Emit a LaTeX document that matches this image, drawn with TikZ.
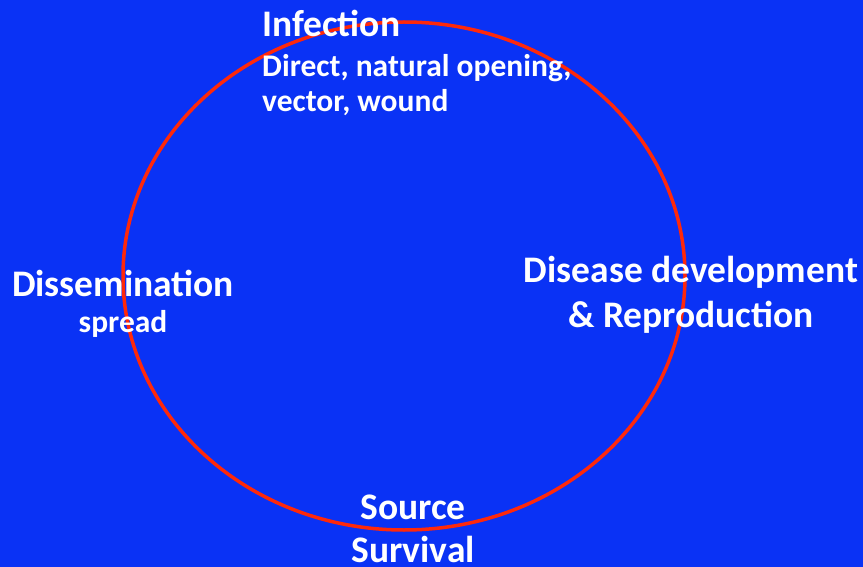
\documentclass[tikz,border=0pt]{standalone}
\usepackage{fontspec}
\setmainfont{Carlito}
\usepackage{tikz}
\usetikzlibrary{positioning}
\definecolor{slideblue}{RGB}{10,50,245}
\definecolor{cyclered}{RGB}{255,40,10}

\begin{document}
\begin{tikzpicture}[x=1pt,y=-1pt,
	every node/.style={inner sep=0pt, text=white, font=\bfseries},
	stagetitle/.style={font=\bfseries\fontsize{37.5}{40}\selectfont},
	stagenote/.style={font=\bfseries\fontsize{31.5}{34}\selectfont}
	]
	\fill[slideblue] (0,0) rectangle (863,567);
	\useasboundingbox (0,0) rectangle (863,567);

	\coordinate (c) at (404,276);
	\draw[cyclered, line width=3.5pt] (c) ellipse [x radius=281, y radius=254];

	\node[stagetitle, anchor=base west] (infection) at (262,37) {Infection};
	\node[stagenote, anchor=base west] (infnote1) at (262,77) {Direct, natural opening,};
	\node[stagenote, anchor=base west] (infnote2) at (262,112) {vector, wound};

	\node[stagetitle, anchor=base] (dissem) at (123,296) {Dissemination};
	\node[stagenote, anchor=base] (dissnote) at (123,332) {spread};

	\node[stagetitle, anchor=base] (disease) at (691,283) {Disease development};
	\node[stagetitle, anchor=base] (repro) at (691,327) {\& Reproduction};

	\node[stagetitle, anchor=base] (source) at (413,519) {Source};
	\node[stagetitle, anchor=base] (survival) at (413,562) {Survival};
\end{tikzpicture}
\end{document}
